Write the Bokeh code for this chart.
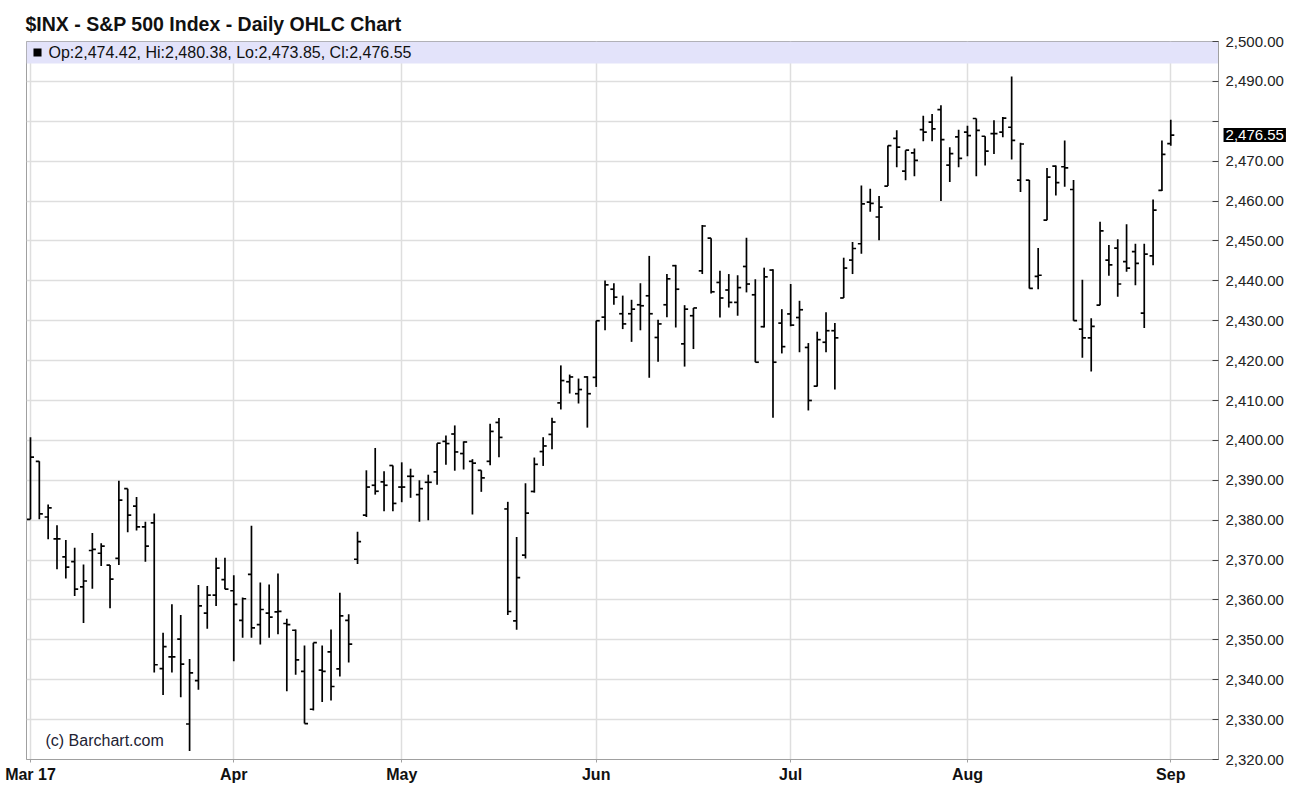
import numpy as np
import pandas as pd
from bokeh.plotting import figure
from bokeh.models import (FixedTicker, NumeralTickFormatter, BoxAnnotation, Label,
                          Range1d, ColumnDataSource)
from bokeh.embed import file_html
from bokeh.resources import INLINE

# ---------------- data ----------------
holidays = ["2017-04-14", "2017-05-29", "2017-07-04"]
dates = [d for d in pd.bdate_range("2017-03-01", "2017-09-01")
         if d.strftime("%Y-%m-%d") not in holidays]

opens = [2380.2, 2394.75, 2380.8, 2375.3, 2370.8, 2369.6, 2363.3, 2372.4, 2371.7, 2368.75,
         2370.4, 2387.9, 2383.5, 2378.3, 2379.3, 2342.8, 2345.75, 2350.2, 2328.9, 2339.75,
         2356.7, 2361.2, 2365.1, 2362.3, 2354.9, 2366.4, 2353.8, 2356.7, 2357.0, 2354.1,
         2352.4, 2342.1, 2332.6, 2342.4, 2347.0, 2342.7, 2354.9, 2370.2, 2381.25, 2388.75,
         2389.6, 2393.7, 2388.3, 2391.0, 2386.4, 2389.5, 2392.1, 2399.75, 2401.6, 2396.7,
         2394.75, 2392.5, 2394.75, 2404.5, 2382.8, 2354.75, 2371.25, 2387.2, 2397.2, 2401.5,
         2409.4, 2414.7, 2411.7, 2415.9, 2415.8, 2430.9, 2437.9, 2431.75, 2431.75, 2434.0,
         2436.25, 2425.8, 2434.0, 2443.8, 2424.2, 2431.25, 2442.5, 2450.7, 2439.6, 2437.7,
         2434.6, 2443.6, 2436.5, 2428.5, 2442.7, 2429.4, 2431.7, 2430.8, 2423.3, 2413.6,
         2424.6, 2427.5, 2435.7, 2445.2, 2449.3, 2459.75, 2456.0, 2463.75, 2475.7, 2467.5,
         2472.1, 2477.9, 2479.8, 2482.9, 2469.0, 2476.1, 2477.3, 2480.7, 2476.25, 2476.9,
         2477.3, 2478.5, 2465.25, 2465.25, 2441.1, 2455.2, 2468.75, 2468.6, 2462.9, 2427.9,
         2425.7, 2433.9, 2445.2, 2448.2, 2444.8, 2447.3, 2431.9, 2446.25, 2462.7, 2474.42]
highs = [2400.8, 2394.75, 2383.9, 2378.7, 2375.0, 2373.1, 2368.9, 2376.8, 2374.2, 2368.75,
         2389.9, 2387.9, 2385.8, 2379.6, 2381.7, 2351.8, 2358.9, 2356.25, 2345.2, 2363.75,
         2363.5, 2370.6, 2370.6, 2366.2, 2360.6, 2378.6, 2364.35, 2363.9, 2366.6, 2355.3,
         2352.6, 2348.6, 2349.3, 2348.6, 2352.6, 2361.8, 2356.4, 2377.1, 2392.5, 2398.1,
         2392.25, 2393.7, 2394.5, 2392.9, 2390.0, 2391.4, 2399.3, 2401.2, 2403.75, 2399.75,
         2395.3, 2392.5, 2404.2, 2405.6, 2384.6, 2375.8, 2389.25, 2395.7, 2400.8, 2405.7,
         2418.8, 2416.5, 2415.5, 2416.1, 2430.0, 2440.1, 2439.4, 2436.3, 2435.25, 2439.4,
         2446.25, 2430.25, 2441.7, 2444.0, 2433.9, 2433.2, 2454.0, 2450.7, 2442.5, 2441.7,
         2441.4, 2450.8, 2440.4, 2443.3, 2442.9, 2432.9, 2439.2, 2435.0, 2424.4, 2427.25,
         2432.1, 2429.4, 2445.8, 2449.75, 2463.9, 2463.1, 2461.25, 2473.9, 2477.75, 2472.75,
         2473.2, 2481.4, 2481.8, 2484.0, 2473.5, 2477.9, 2478.9, 2480.7, 2476.25, 2480.25,
         2481.1, 2491.25, 2474.6, 2465.25, 2448.2, 2468.3, 2468.9, 2475.2, 2465.25, 2440.25,
         2430.6, 2454.8, 2449.0, 2450.4, 2454.2, 2449.3, 2449.3, 2460.4, 2475.2, 2480.38]
lows = [2380.2, 2380.2, 2375.2, 2367.7, 2365.4, 2361.0, 2354.2, 2362.8, 2368.5, 2357.9,
        2368.75, 2377.0, 2377.4, 2369.6, 2341.8, 2336.2, 2341.8, 2335.6, 2322.1, 2337.5,
        2352.8, 2358.5, 2362.7, 2344.6, 2350.5, 2350.5, 2348.8, 2350.5, 2351.4, 2337.1,
        2341.25, 2329.0, 2332.3, 2334.4, 2334.8, 2340.8, 2344.3, 2369.0, 2380.8, 2386.4,
        2382.25, 2382.25, 2384.5, 2385.6, 2379.6, 2380.0, 2388.9, 2393.9, 2392.4, 2392.7,
        2381.4, 2387.1, 2393.75, 2395.75, 2356.2, 2352.5, 2370.4, 2386.9, 2393.6, 2397.75,
        2407.75, 2411.75, 2409.25, 2403.2, 2413.4, 2427.6, 2434.0, 2427.9, 2424.7, 2427.6,
        2415.7, 2419.7, 2430.9, 2428.3, 2418.5, 2422.9, 2441.7, 2436.8, 2430.8, 2433.3,
        2431.25, 2437.1, 2419.6, 2428.3, 2405.7, 2421.8, 2428.6, 2422.1, 2407.5, 2413.5,
        2422.1, 2412.75, 2435.7, 2441.7, 2446.8, 2457.3, 2450.2, 2463.75, 2468.5, 2465.2,
        2466.25, 2475.0, 2475.0, 2460.0, 2464.8, 2468.5, 2471.25, 2466.25, 2468.9, 2471.8,
        2476.0, 2470.4, 2462.25, 2438.1, 2437.9, 2455.2, 2461.4, 2463.6, 2430.0, 2420.7,
        2417.3, 2433.9, 2441.25, 2436.0, 2442.3, 2438.9, 2428.2, 2443.9, 2462.5, 2473.85]
closes = [2395.8, 2381.6, 2383.1, 2375.3, 2368.25, 2362.7, 2364.75, 2372.7, 2373.5, 2365.2,
          2385.0, 2381.25, 2378.3, 2373.5, 2343.75, 2348.3, 2345.75, 2343.9, 2341.7, 2358.5,
          2361.2, 2368.0, 2362.7, 2358.9, 2360.3, 2353.0, 2357.6, 2355.7, 2357.15, 2353.8,
          2345.0, 2329.0, 2349.3, 2342.1, 2338.3, 2356.0, 2348.9, 2374.6, 2388.3, 2387.25,
          2388.75, 2384.2, 2388.3, 2391.0, 2387.9, 2389.5, 2399.3, 2399.2, 2397.1, 2399.6,
          2394.3, 2390.6, 2402.25, 2400.75, 2357.1, 2365.6, 2381.75, 2394.0, 2398.6, 2404.6,
          2415.0, 2415.9, 2412.75, 2411.7, 2430.0, 2439.0, 2435.9, 2429.2, 2432.9, 2433.75,
          2431.75, 2429.2, 2440.5, 2437.9, 2432.9, 2433.2, 2453.75, 2437.25, 2435.7, 2434.6,
          2438.3, 2439.2, 2419.6, 2441.0, 2419.6, 2423.5, 2428.9, 2432.75, 2410.0, 2425.25,
          2427.5, 2425.7, 2443.2, 2448.1, 2459.3, 2459.4, 2458.5, 2473.9, 2473.5, 2472.75,
          2470.2, 2477.3, 2478.1, 2475.4, 2471.9, 2470.7, 2476.4, 2477.7, 2472.5, 2476.9,
          2480.8, 2475.2, 2474.3, 2438.1, 2441.4, 2466.0, 2464.6, 2468.3, 2430.0, 2425.7,
          2428.6, 2452.5, 2444.0, 2439.2, 2443.2, 2444.4, 2446.7, 2457.75, 2471.7, 2476.55]

title_text = "$INX - S&P 500 Index - Daily OHLC Chart"
legend_text = "Op:2,474.42, Hi:2,480.38, Lo:2,473.85, Cl:2,476.55"
copyright_text = "(c) Barchart.com"
last_price = closes[-1]
last_price_text = "2,476.55"
y_ticks = list(range(2320, 2501, 10))

# ---------------- derived ----------------
x = np.arange(len(dates))
month_starts = [i for i in range(len(dates)) if i == 0 or dates[i].month != dates[i - 1].month]
month_labels = {i: ("Mar 17" if i == 0 else dates[i].strftime("%b")) for i in month_starts}
tick_len = 0.4

FONT = "Liberation Sans"

p = figure(width=1293, height=785, output_backend="svg", toolbar_location=None,
           x_range=Range1d(-0.45, 134.4), y_range=Range1d(2320, 2500),
           y_axis_location="right",
           min_border_left=26, min_border_right=75, min_border_top=41, min_border_bottom=25,
           background_fill_color="white", border_fill_color="white")

p.outline_line_color = "#a0a0a0"
p.outline_line_width = 1

# header band
p.add_layout(BoxAnnotation(top=2500, bottom=2494.49, fill_color="#e3e3fa", fill_alpha=1.0,
                           line_color=None, level="underlay"))

# grid
p.xgrid.grid_line_color = "#dedede"
p.ygrid.grid_line_color = "#dedede"
p.xgrid.grid_line_width = 1.5
p.ygrid.grid_line_width = 1.5

# x axis
p.xaxis.ticker = FixedTicker(ticks=month_starts)
p.xaxis.major_label_overrides = month_labels
p.xaxis.major_label_text_font = FONT
p.xaxis.major_label_text_font_size = "16px"
p.xaxis.major_label_text_font_style = "bold"
p.xaxis.major_label_text_color = "#111111"
p.xaxis.major_tick_in = 0
p.xaxis.major_tick_out = 3
p.xaxis.minor_tick_line_color = None
p.xaxis.major_label_standoff = 3
p.xaxis.axis_line_color = "#a0a0a0"
p.xaxis.major_tick_line_color = "#a0a0a0"

# y axis
p.yaxis.ticker = FixedTicker(ticks=y_ticks)
p.yaxis.formatter = NumeralTickFormatter(format="0,0.00")
p.yaxis.major_label_overrides = {2480: ""}
p.yaxis.major_label_text_font = FONT
p.yaxis.major_label_text_font_size = "15px"
p.yaxis.major_label_text_color = "#222222"
p.yaxis.major_tick_in = 6
p.yaxis.major_tick_out = 0
p.yaxis.minor_tick_line_color = None
p.yaxis.major_label_standoff = 7
p.yaxis.axis_line_color = "#a0a0a0"
p.yaxis.major_tick_line_color = "#444444"

# OHLC bars
src = ColumnDataSource(dict(x=x, xl=x - tick_len, xr=x + tick_len,
                            o=opens, h=highs, l=lows, c=closes))
p.segment(x0="x", y0="l", x1="x", y1="h", source=src, line_color="black", line_width=1.7)
p.segment(x0="xl", y0="o", x1="x", y1="o", source=src, line_color="black", line_width=1.7)
p.segment(x0="x", y0="c", x1="xr", y1="c", source=src, line_color="black", line_width=1.7)

# header square + text
p.add_layout(BoxAnnotation(left=0.34, right=1.25, top=2498.25, bottom=2496.24,
                           fill_color="black", fill_alpha=1.0, line_color=None))
p.add_layout(Label(x=2.04, y=2497.25, text=legend_text, text_font=FONT,
                   text_font_size="16px", text_color="#111111", text_baseline="middle"))

# copyright
p.add_layout(Label(x=1.7, y=2324.7, text=copyright_text, text_font=FONT,
                   text_font_size="16px", text_color="#222233", text_baseline="middle"))

# title and last-price marker live in the top panel so the frame does not clip them
p.add_layout(Label(x=-0.56, y=2504.3, text=title_text, text_font=FONT,
                   text_font_size="19.5px", text_font_style="bold", text_color="#111111",
                   text_baseline="middle"), "above")
p.add_layout(Label(x=134.97, y=last_price, text=last_price_text, text_font=FONT,
                   text_font_size="15px", text_color="white", text_baseline="middle",
                   background_fill_color="black", background_fill_alpha=1.0, padding=2),
             "above")

open("out.html", "w").write(file_html(p, INLINE))
